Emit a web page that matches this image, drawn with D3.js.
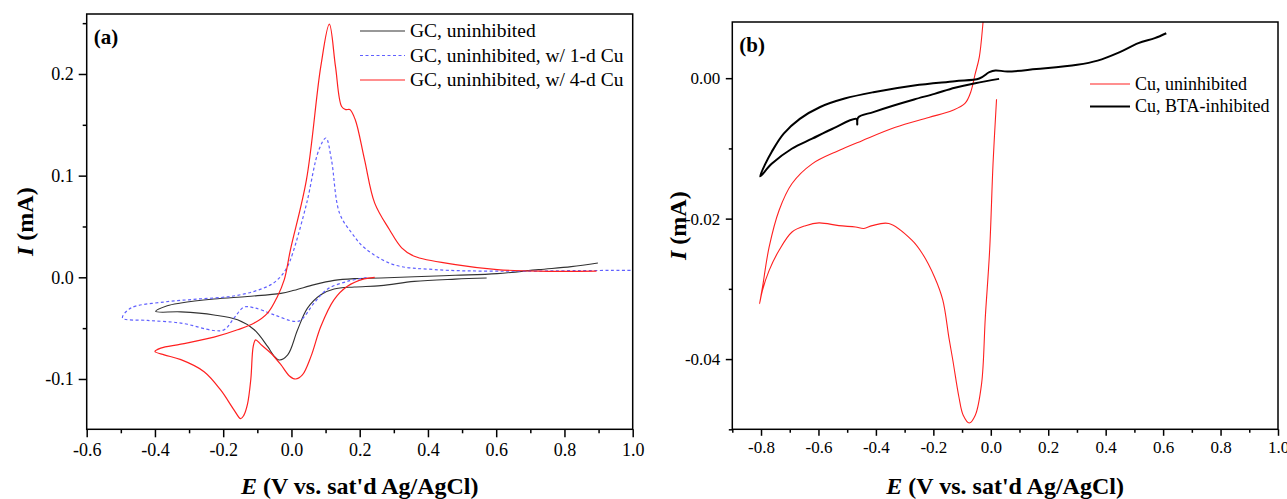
<!DOCTYPE html>
<html>
<head>
<meta charset="utf-8">
<script src="https://cdn.jsdelivr.net/npm/d3@7"></script>
<style>
    body { margin: 0; background: #fff; }
    svg { display: block; font-family: "Liberation Serif", "Times New Roman", serif; }
    svg text { font-family: "Liberation Serif", "Times New Roman", serif; }
</style>
</head>
<body>
<svg id="fig" width="1287" height="499"></svg>
<script>
// ---- panel (a): cyclic voltammograms on glassy carbon, [E (V), I (mA)] in scan order
const gcUninhibited = [
    [0.572, -0.0007], [0.48, -0.0018], [0.36, -0.004], [0.262, -0.0082], [0.184, -0.0095],
    [0.125, -0.0115], [0.086, -0.0171], [0.047, -0.0303], [0.018, -0.0516], [-0.011, -0.0763],
    [-0.036, -0.0813], [-0.052, -0.077], [-0.07, -0.068], [-0.109, -0.0516], [-0.158, -0.0418],
    [-0.227, -0.037], [-0.324, -0.034], [-0.398, -0.0336],
    [-0.364, -0.028], [-0.324, -0.0253], [-0.227, -0.0214], [-0.129, -0.0188], [-0.031, -0.0158],
    [0.008, -0.0128], [0.067, -0.0072], [0.125, -0.003], [0.184, -0.0013], [0.262, -0.0007],
    [0.36, 0.0006], [0.48, 0.002], [0.603, 0.0036], [0.724, 0.0076], [0.82, 0.0105], [0.898, 0.0141]
];
const gcCu1d = [
    [0.22, -0.0003], [0.164, -0.004], [0.106, -0.0115], [0.067, -0.025], [0.028, -0.042],
    [0.008, -0.0434], [-0.05, -0.037], [-0.109, -0.030], [-0.139, -0.0293], [-0.168, -0.040],
    [-0.197, -0.0516], [-0.227, -0.0523], [-0.324, -0.045], [-0.422, -0.0424], [-0.495, -0.040],
    [-0.471, -0.0303], [-0.373, -0.0243], [-0.275, -0.0214], [-0.178, -0.0188], [-0.109, -0.0138],
    [-0.06, -0.0072], [-0.031, 0.001], [-0.011, 0.011], [0.004, 0.024], [0.044, 0.072],
    [0.08, 0.125], [0.101, 0.137], [0.117, 0.116], [0.141, 0.063], [0.178, 0.043], [0.214, 0.029],
    [0.299, 0.0125], [0.42, 0.0076], [0.603, 0.006], [0.846, 0.0066], [1.0, 0.0069]
];
const gcCu4d = [
    [0.244, 0.0], [0.213, -0.0016], [0.164, -0.0089], [0.125, -0.022], [0.086, -0.0484],
    [0.057, -0.078], [0.032, -0.096], [0.012, -0.1], [-0.006, -0.097], [-0.031, -0.086],
    [-0.06, -0.0747], [-0.09, -0.066], [-0.105, -0.0615], [-0.112, -0.068], [-0.119, -0.100],
    [-0.129, -0.125], [-0.14, -0.136], [-0.149, -0.139], [-0.168, -0.1306], [-0.207, -0.111],
    [-0.256, -0.0928], [-0.324, -0.081], [-0.373, -0.0763], [-0.4, -0.073],
    [-0.383, -0.0697], [-0.324, -0.0658], [-0.227, -0.0589], [-0.158, -0.0516], [-0.109, -0.045],
    [-0.07, -0.0352], [-0.041, -0.0188], [-0.021, -0.0023], [-0.003, 0.027], [0.044, 0.096],
    [0.086, 0.2075], [0.111, 0.249], [0.129, 0.2075], [0.147, 0.168], [0.159, 0.165],
    [0.171, 0.165], [0.187, 0.155], [0.214, 0.116], [0.244, 0.073], [0.287, 0.047],
    [0.323, 0.029], [0.36, 0.0207], [0.481, 0.0125], [0.603, 0.0076], [0.724, 0.006], [0.894, 0.006]
];
const legendA = ["GC, uninhibited", "GC, uninhibited, w/ 1-d Cu", "GC, uninhibited, w/ 4-d Cu"];

// ---- panel (b): copper electrodes
const cuUninhibited = [
    [0.02, -0.003], [0.008, -0.012], [-0.004, -0.0245], [-0.019, -0.034], [-0.032, -0.0435],
    [-0.054, -0.048], [-0.075, -0.0491], [-0.096, -0.048], [-0.111, -0.0454], [-0.132, -0.0402],
    [-0.146, -0.0369], [-0.167, -0.0316], [-0.196, -0.0283], [-0.238, -0.025], [-0.274, -0.0231],
    [-0.355, -0.0207], [-0.413, -0.021], [-0.442, -0.0214], [-0.471, -0.0212], [-0.529, -0.021],
    [-0.598, -0.0206], [-0.645, -0.021], [-0.692, -0.0219], [-0.737, -0.0245], [-0.772, -0.0274],
    [-0.795, -0.0302], [-0.805, -0.0321],
    [-0.795, -0.0298], [-0.772, -0.0241], [-0.737, -0.0188], [-0.692, -0.015], [-0.622, -0.0122],
    [-0.529, -0.0103], [-0.448, -0.0089], [-0.332, -0.007], [-0.216, -0.0056], [-0.134, -0.0046],
    [-0.09, -0.0036], [-0.07, -0.002], [-0.055, 0.0005], [-0.04, 0.003], [-0.028, 0.0075], [-0.02, 0.012]
];
const cuBTA = [
    [0.029, -0.0001], [-0.054, -0.00071], [-0.125, -0.00137], [-0.196, -0.00223], [-0.267, -0.00303],
    [-0.338, -0.00389], [-0.409, -0.00483], [-0.462, -0.0056], [-0.465, -0.0066], [-0.468, -0.0058],
    [-0.551, -0.0072], [-0.622, -0.00862], [-0.693, -0.01005], [-0.763, -0.0122], [-0.803, -0.01398],
    [-0.785, -0.0122], [-0.763, -0.0105], [-0.721, -0.0079], [-0.665, -0.0058], [-0.594, -0.0041],
    [-0.509, -0.0029], [-0.409, -0.002], [-0.267, -0.00104], [-0.125, -0.00043], [-0.04, -0.00005],
    [-0.005, 0.00085], [0.016, 0.0011], [0.058, 0.00095], [0.159, 0.0013], [0.301, 0.0019],
    [0.372, 0.0025], [0.443, 0.0036], [0.514, 0.005], [0.571, 0.0057], [0.611, 0.0064]
];
const legendB = ["Cu, uninhibited", "Cu, BTA-inhibited"];

// ticks
const xMajorA = [-0.6, -0.4, -0.2, 0, 0.2, 0.4, 0.6, 0.8, 1.0];
const xMinorA = [-0.5, -0.3, -0.1, 0.1, 0.3, 0.5, 0.7, 0.9];
const yMajorA = [-0.1, 0, 0.1, 0.2];
const yMinorA = [-0.05, 0.05, 0.15, 0.25];
const xMajorB = [-0.8, -0.6, -0.4, -0.2, 0, 0.2, 0.4, 0.6, 0.8, 1.0];
const xMinorB = [-0.9, -0.7, -0.5, -0.3, -0.1, 0.1, 0.3, 0.5, 0.7, 0.9];
const yMajorB = [-0.04, -0.02, 0];
const yMinorB = [-0.05, -0.03, -0.01];

const svg = d3.select("#fig");
const SERIF = '"Liberation Serif", "Times New Roman", serif';

function drawPanel(o) {
    const x = d3.scaleLinear().domain(o.xDomain).range([o.left, o.right]);
    const y = d3.scaleLinear().domain(o.yDomain).range([o.bottom, o.top]);
    const g = svg.append("g");

    g.append("clipPath").attr("id", o.id + "-clip")
        .append("rect")
        .attr("x", o.left).attr("y", o.top)
        .attr("width", o.right - o.left).attr("height", o.bottom - o.top);

    const line = d3.line()
        .x(d => x(d[0]))
        .y(d => y(d[1]))
        .curve(d3.curveCatmullRom.alpha(0.5));

    o.series.forEach(s => {
        g.append("path")
            .attr("clip-path", `url(#${o.id}-clip)`)
            .attr("d", line(s.data))
            .attr("fill", "none")
            .attr("stroke", s.color)
            .attr("stroke-width", s.width)
            .attr("stroke-dasharray", s.dash || null);
    });

    // minor ticks (no labels)
    g.append("g").attr("transform", `translate(0,${o.bottom})`)
        .call(d3.axisBottom(x).tickValues(o.xMinor).tickSize(o.minorLen).tickFormat(""));
    g.append("g").attr("transform", `translate(${o.left},0)`)
        .call(d3.axisLeft(y).tickValues(o.yMinor).tickSize(o.minorLen).tickFormat(""));

    // major ticks
    g.append("g").attr("transform", `translate(0,${o.bottom})`)
        .call(d3.axisBottom(x).tickValues(o.xMajor).tickSize(o.majorLen)
            .tickPadding(o.xPad).tickFormat(d => d.toFixed(1)));
    g.append("g").attr("transform", `translate(${o.left},0)`)
        .call(d3.axisLeft(y).tickValues(o.yMajor).tickSize(o.majorLen)
            .tickPadding(o.yPad).tickFormat(d => d.toFixed(o.yDigits)));

    // d3 axes put sans-serif on the group, so override it there
    g.selectAll("g")
        .attr("font-family", SERIF)
        .attr("font-size", o.tickFont);
    g.selectAll(".domain").remove();
    g.selectAll(".tick line").attr("stroke", "#000").attr("stroke-width", 1.5);
    g.selectAll(".tick text").attr("fill", "#000");

    // frame
    g.append("rect")
        .attr("x", o.left).attr("y", o.top)
        .attr("width", o.right - o.left).attr("height", o.bottom - o.top)
        .attr("fill", "none").attr("stroke", "#000").attr("stroke-width", 1.5);

    // panel letter
    g.append("text")
        .attr("x", o.left + 7).attr("y", o.top + 30)
        .attr("font-size", 21).attr("font-weight", "bold")
        .text(o.letter);

    // legend
    o.series.forEach((s, i) => {
        const ly = o.legend.y + i * o.legend.dy;
        g.append("line")
            .attr("x1", o.legend.x).attr("x2", o.legend.x + o.legend.len)
            .attr("y1", ly).attr("y2", ly)
            .attr("stroke", s.color).attr("stroke-width", s.width)
            .attr("stroke-dasharray", s.dash || null);
        g.append("text")
            .attr("x", o.legend.x + o.legend.len + 5).attr("y", ly)
            .attr("dy", "0.33em")
            .attr("font-size", o.legend.font)
            .text(s.name);
    });

    // axis titles
    const xt = g.append("text")
        .attr("x", (o.left + o.right) / 2).attr("y", 494)
        .attr("text-anchor", "middle")
        .attr("font-size", 24).attr("font-weight", "bold");
    xt.append("tspan").attr("font-style", "italic").text("E");
    xt.append("tspan").text(" (V vs. sat'd Ag/AgCl)");

    const yt = g.append("text")
        .attr("transform", `translate(${o.yTitleX},${(o.top + o.bottom) / 2}) rotate(-90)`)
        .attr("text-anchor", "middle")
        .attr("font-size", 24).attr("font-weight", "bold");
    yt.append("tspan").attr("font-style", "italic").text("I");
    yt.append("tspan").text(" (mA)");
}

drawPanel({
    id: "a", letter: "(a)",
    left: 86.7, right: 632.7, top: 14, bottom: 429.3,
    xDomain: [-0.6, 1.0], yDomain: [-0.1495, 0.259],
    xMajor: xMajorA, xMinor: xMinorA, yMajor: yMajorA, yMinor: yMinorA,
    majorLen: 8, minorLen: 4, xPad: 6, yPad: 5, yDigits: 1, tickFont: 18,
    yTitleX: 33,
    legend: { x: 360, y: 31, dy: 24.5, len: 45, font: 19.5 },
    series: [
        { name: legendA[0], data: gcUninhibited, color: "#333", width: 1.1 },
        { name: legendA[1], data: gcCu1d, color: "#6060ff", width: 1.2, dash: "3,2.5" },
        { name: legendA[2], data: gcCu4d, color: "#ff2020", width: 1.2 }
    ]
});

drawPanel({
    id: "b", letter: "(b)",
    left: 732.3, right: 1278, top: 22, bottom: 429.3,
    xDomain: [-0.9, 1.0], yDomain: [-0.05, 0.008],
    xMajor: xMajorB, xMinor: xMinorB, yMajor: yMajorB, yMinor: yMinorB,
    majorLen: 6.5, minorLen: 3.5, xPad: 5.5, yPad: 5.5, yDigits: 2, tickFont: 17,
    yTitleX: 686,
    legend: { x: 1090, y: 84, dy: 22.5, len: 40, font: 18 },
    series: [
        { name: legendB[0], data: cuUninhibited, color: "#ff2020", width: 1.1 },
        { name: legendB[1], data: cuBTA, color: "#000", width: 2 }
    ]
});
</script>
</body>
</html>
